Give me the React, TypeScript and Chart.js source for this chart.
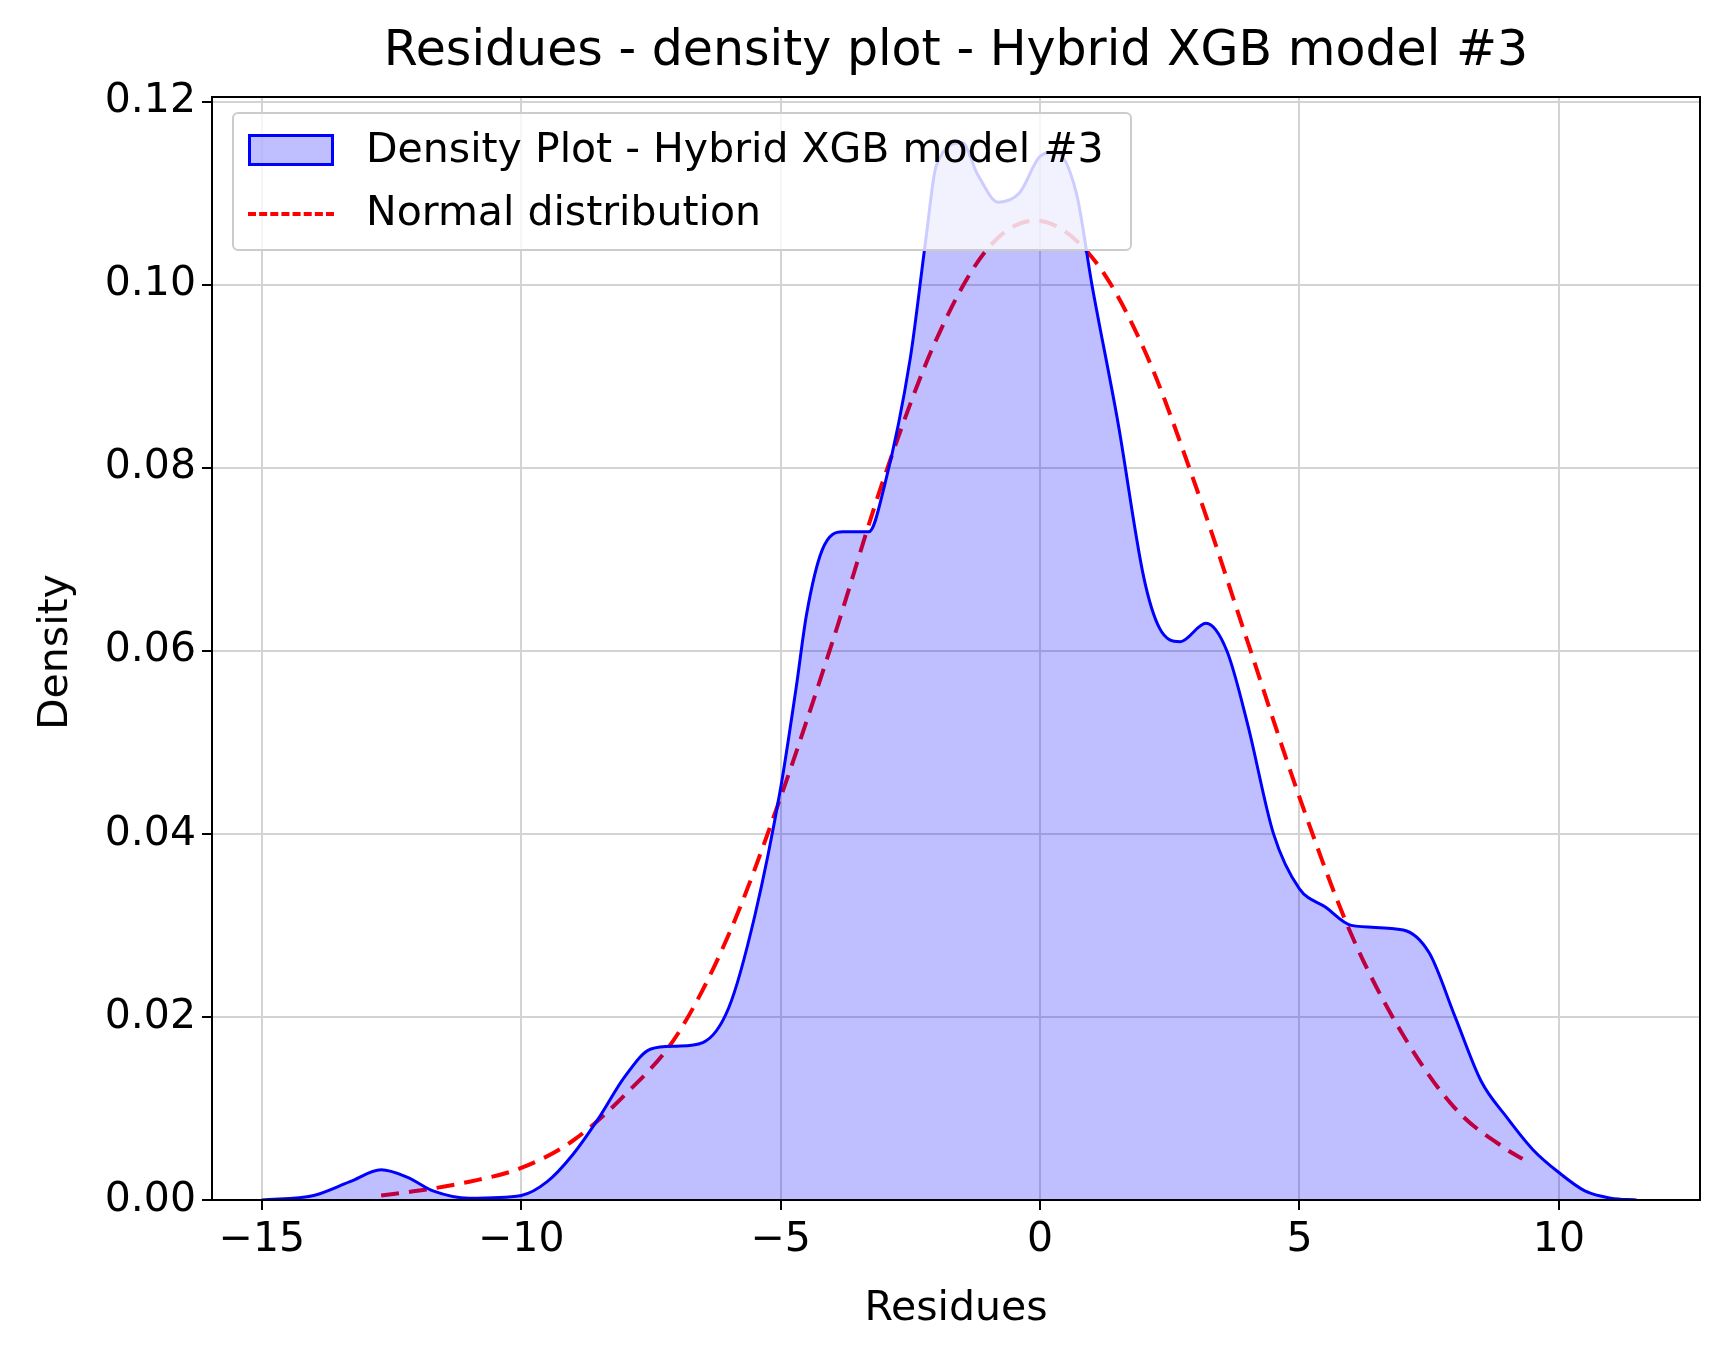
import React, { useEffect, useRef } from "react";
import Chart from "chart.js/auto";

const densityX = [-15, -14, -13.3, -12.7, -12.2, -11.7, -11, -10, -9.5, -9, -8.5, -8, -7.5, -7, -6.5, -6, -5.5, -5, -4.7, -4.5, -4.2, -3.8, -3.3, -3, -2.5, -2.2, -2, -1.5, -1.2, -0.8, -0.4, 0, 0.3, 0.7, 1, 1.5, 2, 2.3, 2.7, 3.2, 3.6, 4, 4.5, 5, 5.5, 6, 7, 7.5, 8, 8.5, 9, 9.5, 10, 10.5, 11, 11.5];
const densityY = [0, 0.0005, 0.002, 0.0033, 0.0025, 0.001, 0.0002, 0.0005, 0.002, 0.005, 0.009, 0.0135, 0.0165, 0.0168, 0.0172, 0.021, 0.031, 0.045, 0.056, 0.064, 0.071, 0.073, 0.073, 0.078, 0.092, 0.105, 0.113, 0.1155, 0.112, 0.109, 0.110, 0.114, 0.1145, 0.110, 0.100, 0.085, 0.068, 0.0625, 0.061, 0.063, 0.060, 0.052, 0.040, 0.034, 0.032, 0.030, 0.0295, 0.027, 0.020, 0.013, 0.009, 0.0055, 0.003, 0.001, 0.0002, 0];
const normalX = [-12.7, -12, -11, -10, -9, -8, -7, -6, -5, -4, -3, -2, -1, -0.1, 1, 2, 3, 4, 5, 6, 7, 8, 9, 9.3];
const normalY = [0.0005, 0.001, 0.002, 0.0035, 0.0065, 0.0115, 0.018, 0.029, 0.044, 0.061, 0.079, 0.094, 0.104, 0.107, 0.103, 0.093, 0.078, 0.061, 0.044, 0.029, 0.018, 0.010, 0.0055, 0.0045];
const xTicks = [-15, -10, -5, 0, 5, 10];
const yTicks = [0, 0.02, 0.04, 0.06, 0.08, 0.1, 0.12];

const font = "'DejaVu Sans', sans-serif";

const App: React.FC = () => {
  const canvasRef = useRef<HTMLCanvasElement>(null);

  useEffect(() => {
    if (!canvasRef.current) return;
    const border = {
      id: "border",
      afterDraw(chart: any) {
        const { ctx, chartArea: a } = chart;
        ctx.save();
        ctx.strokeStyle = "#000";
        ctx.lineWidth = 2;
        ctx.strokeRect(a.left, a.top, a.right - a.left, a.bottom - a.top);
        ctx.restore();
      },
    };
    const chart = new Chart(canvasRef.current, {
      type: "line",
      data: {
        datasets: [
          {
            label: "Density Plot - Hybrid XGB model #3",
            data: densityX.map((x, i) => ({ x, y: densityY[i] })),
            borderColor: "#0000ff",
            backgroundColor: "rgba(0,0,255,0.25)",
            borderWidth: 3,
            fill: "origin",
            pointRadius: 0,
            cubicInterpolationMode: "monotone",
          },
          {
            label: "Normal distribution",
            data: normalX.map((x, i) => ({ x, y: normalY[i] })),
            borderColor: "#ff0000",
            borderWidth: 4,
            borderDash: [18, 10],
            fill: false,
            pointRadius: 0,
            cubicInterpolationMode: "monotone",
          },
        ],
      },
      options: {
        responsive: false,
        animation: false,
        layout: { padding: { top: 97, right: 28, left: 0, bottom: 0 } },
        plugins: { legend: { display: false }, tooltip: { enabled: false } },
        scales: {
          x: {
            type: "linear",
            min: -15.96,
            max: 12.72,
            afterBuildTicks: (s: any) => { s.ticks = xTicks.map((v) => ({ value: v })); },
            afterFit: (s: any) => { s.height = 161; },
            grid: { color: "#d3d3d3", lineWidth: 2, tickLength: 10, tickColor: "#000" },
            border: { display: false },
            ticks: { color: "#000", font: { family: font, size: 41 }, padding: 6, maxRotation: 0,
              callback: (v: any) => (v < 0 ? "\u2212" + Math.abs(v) : String(v)) },
          },
          y: {
            min: 0,
            max: 0.1205,
            afterBuildTicks: (s: any) => { s.ticks = yTicks.map((v) => ({ value: v })); },
            afterFit: (s: any) => { s.width = 212; },
            grid: { color: "#d3d3d3", lineWidth: 2, tickLength: 10, tickColor: "#000" },
            border: { display: false },
            ticks: { color: "#000", font: { family: font, size: 41 }, padding: 6, callback: (v: any) => Number(v).toFixed(2) },
          },
        },
      },
      plugins: [border],
    } as any);
    return () => chart.destroy();
  }, []);

  return (
    <div style={{ position: "absolute", left: 0, top: 0, width: 1728, height: 1361, background: "#fff", fontFamily: font, overflow: "hidden" }}>
      <canvas ref={canvasRef} width={1728} height={1361} style={{ position: "absolute", left: 0, top: 0 }} />
      <div style={{ position: "absolute", left: 212, width: 1488, top: 20, textAlign: "center", fontSize: 49, color: "#000", whiteSpace: "nowrap" }}>
        Residues - density plot - Hybrid XGB model #3
      </div>
      <div style={{ position: "absolute", left: 212, width: 1488, top: 1282, textAlign: "center", fontSize: 41, color: "#000" }}>
        Residues
      </div>
      <div style={{ position: "absolute", left: 53, top: 652, transform: "translate(-50%,-50%) rotate(-90deg)", fontSize: 41, color: "#000" }}>
        Density
      </div>
      <div style={{ position: "absolute", left: 232, top: 112, width: 896, height: 135, border: "2px solid #ccc", borderRadius: 6,
        background: "rgba(255,255,255,0.8)", fontSize: 41, color: "#000", whiteSpace: "nowrap" }}>
        <div style={{ position: "absolute", left: 14, top: 20, width: 86, height: 32, background: "rgba(0,0,255,0.25)", border: "3px solid #0000ff", boxSizing: "border-box" }} />
        <div style={{ position: "absolute", left: 132, top: 10 }}>Density Plot - Hybrid XGB model #3</div>
        <div style={{ position: "absolute", left: 14, top: 98, width: 86, height: 0, borderTop: "4px dashed #ff0000" }} />
        <div style={{ position: "absolute", left: 132, top: 73 }}>Normal distribution</div>
      </div>
    </div>
  );
};

export default App;
